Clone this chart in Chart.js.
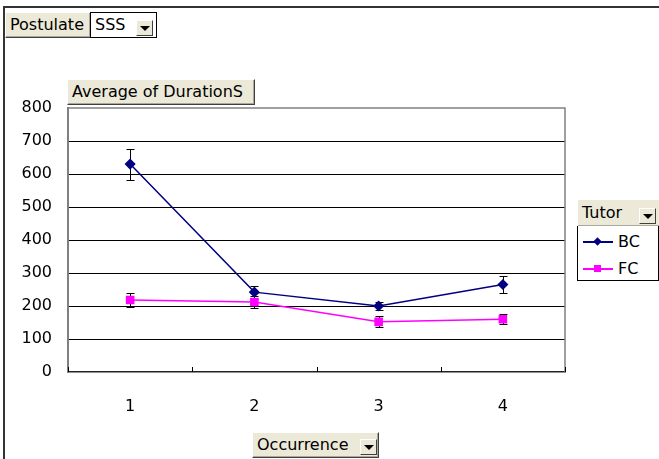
<!DOCTYPE html>
<html>
<head>
<meta charset="utf-8">
<script src="https://cdn.jsdelivr.net/npm/chart.js@4/dist/chart.umd.min.js"></script>
<style>
  body { margin: 0; background: #fff; font-family: "DejaVu Sans", Verdana, sans-serif; }
  #wrap { position: relative; width: 659px; height: 459px; overflow: hidden; }
  #frame { position: absolute; left: 3px; top: 6px; width: 700px; height: 500px;
           border-top: 2px solid #333; border-left: 2px solid #333; }
  canvas { position: absolute; left: 0; top: 0; }
  .btn { position: absolute; box-sizing: border-box; background: #ece9d8; color: #000;
         font-size: 16px; line-height: 23px; padding-left: 4px; white-space: nowrap;
         border: 1px solid; border-color: #fff #404040 #404040 #fff;
         box-shadow: inset -1px -1px 0 #aca899; }
  .field { position: absolute; box-sizing: border-box; background: #fff; border: 1px solid #000;
           font-size: 16px; line-height: 23px; padding-left: 4px; }
  .drop { position: absolute; box-sizing: border-box; width: 17px; height: 16px; background: #ece9d8;
          border: 1px solid; border-color: #fff #404040 #404040 #fff; }
  .drop::after { content: ""; position: absolute; left: 3px; top: 5px; border-left: 5px solid transparent;
                 border-right: 5px solid transparent; border-top: 5px solid #000; }
  #legend { position: absolute; left: 577px; top: 226px; width: 82px; height: 55px; box-sizing: border-box;
            border: 1px solid #000; border-top: none; background: #fff; }
  .item { position: absolute; left: 5px; height: 20px; font-size: 16px; line-height: 20px; }
  .item .ln { position: absolute; left: 0; top: 9px; width: 30px; height: 1.5px; }
  .item .mk { position: absolute; left: 11px; top: 6px; width: 7px; height: 7px; }
  .item span { position: absolute; left: 35px; top: 0; }
</style>
</head>
<body>
<div id="wrap">
  <div id="frame"></div>
  <canvas id="chart" width="659" height="459"></canvas>
  <div class="btn" style="left:5px;top:12px;width:86px;height:26px;">Postulate</div>
  <div class="field" style="left:90px;top:12px;width:67px;height:26px;">SSS</div>
  <div class="drop" style="left:136px;top:20px;"></div>
  <div class="btn" style="left:67px;top:79px;width:188px;height:26px;">Average of DurationS</div>
  <div class="btn" style="left:577px;top:199px;width:84px;height:28px;line-height:25px;">Tutor</div>
  <div class="drop" style="left:639px;top:208px;"></div>
  <div id="legend"></div>
  <div class="btn" style="left:252px;top:432px;width:127px;height:26px;">Occurrence</div>
  <div class="drop" style="left:360px;top:439px;"></div>
</div>
<script>
// Occurrence categories and average durations per tutor
const occurrences = ['1', '2', '3', '4'];
const seriesNames = ['BC', 'FC'];
const bcValues = [630, 242, 200, 265];
const bcErrors = [47, 20, 12, 26];
const fcValues = [218, 212, 152, 160];
const fcErrors = [22, 17, 17, 16];
const yTicks = [0, 100, 200, 300, 400, 500, 600, 700, 800];

const colors = ['#000080', '#ff00ff'];
const errors = [bcErrors, fcErrors];

// error bars, drawn under the markers
const errorBars = {
  id: 'errorBars',
  beforeDatasetsDraw(chart) {
    const ctx = chart.ctx;
    const y = chart.scales.y;
    ctx.save();
    ctx.strokeStyle = '#000';
    ctx.lineWidth = 1;
    chart.data.datasets.forEach((ds, i) => {
      const meta = chart.getDatasetMeta(i);
      meta.data.forEach((pt, j) => {
        const v = ds.data[j], e = errors[i][j];
        const top = Math.round(y.getPixelForValue(v + e)) + 0.5;
        const bot = Math.round(y.getPixelForValue(v - e)) + 0.5;
        const x = Math.round(pt.x) + 0.5;
        ctx.beginPath();
        ctx.moveTo(x, top); ctx.lineTo(x, bot);
        ctx.moveTo(x - 4, top); ctx.lineTo(x + 4, top);
        ctx.moveTo(x - 4, bot); ctx.lineTo(x + 4, bot);
        ctx.stroke();
      });
    });
    ctx.restore();
  }
};

// plot area border and inward category ticks on the x axis
const plotFrame = {
  id: 'plotFrame',
  beforeDatasetsDraw(chart) {
    const { ctx, chartArea: a } = chart;
    const x = chart.scales.x;
    ctx.save();
    ctx.strokeStyle = '#808080';
    ctx.lineWidth = 1.5;
    ctx.beginPath();
    ctx.moveTo(a.left, a.top); ctx.lineTo(a.right, a.top); ctx.lineTo(a.right, a.bottom);
    ctx.stroke();
    ctx.strokeStyle = '#000';
    ctx.lineWidth = 1;
    const step = x.getPixelForValue(1) - x.getPixelForValue(0);
    for (let i = 0; i <= occurrences.length; i++) {
      const px = Math.round(x.getPixelForValue(i) - step / 2) + 0.5;
      ctx.beginPath();
      ctx.moveTo(px, a.bottom); ctx.lineTo(px, a.bottom - 5);
      ctx.stroke();
    }
    ctx.restore();
  }
};

const font = { family: '"DejaVu Sans", Verdana, sans-serif', size: 16 };

new Chart(document.getElementById('chart').getContext('2d'), {
  type: 'line',
  data: {
    labels: occurrences,
    datasets: [
      { label: seriesNames[0], data: bcValues, borderColor: colors[0], backgroundColor: colors[0],
        borderWidth: 1.5, pointStyle: 'rectRot', pointRadius: 4.5, pointHoverRadius: 4.5 },
      { label: seriesNames[1], data: fcValues, borderColor: colors[1], backgroundColor: colors[1],
        borderWidth: 1.5, pointStyle: 'rect', pointRadius: 5, pointHoverRadius: 5 }
    ]
  },
  options: {
    responsive: false,
    animation: false,
    layout: { padding: { left: 0, top: 108, right: 94, bottom: 47 } },
    plugins: { legend: { display: false }, tooltip: { enabled: false } },
    scales: {
      x: {
        offset: true,
        grid: { display: false },
        border: { color: '#222', width: 1.5 },
        ticks: { color: '#000', font: font, padding: 17 },
        afterFit(s) { s.height = 40; }
      },
      y: {
        min: 0, max: 800,
        afterBuildTicks(s) { s.ticks = yTicks.map(v => ({ value: v })); },
        grid: {
          color: c => (c.tick.value === 0 || c.tick.value === 800) ? 'rgba(0,0,0,0)' : '#000',
          lineWidth: 1,
          drawTicks: false
        },
        border: { color: '#808080', width: 2 },
        ticks: { color: '#000', font: font, padding: 16 },
        afterFit(s) { s.width = 68; }
      }
    }
  },
  plugins: [plotFrame, errorBars]
});

// legend entries
const legend = document.getElementById('legend');
seriesNames.forEach((name, i) => {
  const item = document.createElement('div');
  item.className = 'item';
  item.style.top = (6 + i * 27) + 'px';
  const ln = document.createElement('div');
  ln.className = 'ln';
  ln.style.background = colors[i];
  const mk = document.createElement('div');
  mk.className = 'mk';
  mk.style.background = colors[i];
  if (i === 0) mk.style.transform = 'rotate(45deg) scale(0.85)';
  const label = document.createElement('span');
  label.textContent = name;
  item.append(ln, mk, label);
  legend.appendChild(item);
});
</script>
</body>
</html>
